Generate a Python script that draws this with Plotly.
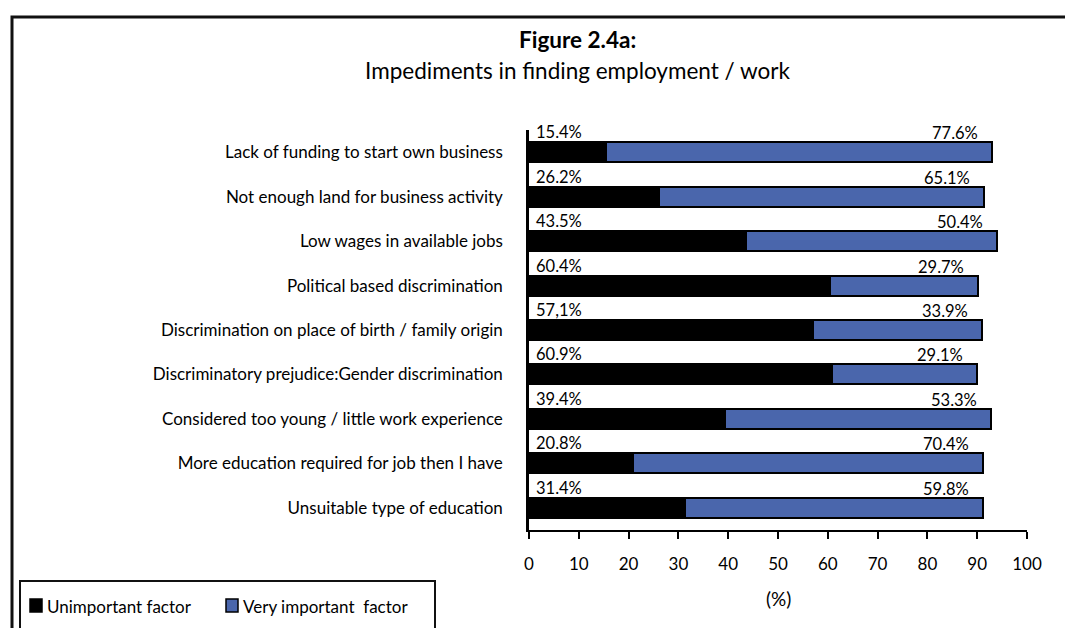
import plotly.graph_objects as go

categories = [
    "Lack of funding to start own business",
    "Not enough land for business activity",
    "Low wages in available jobs",
    "Political based discrimination",
    "Discrimination on place of birth / family origin",
    "Discriminatory prejudice:Gender discrimination",
    "Considered too young / little work experience",
    "More education required for job then I have",
    "Unsuitable type of education",
]
unimportant = [15.4, 26.2, 43.5, 60.4, 57.1, 60.9, 39.4, 20.8, 31.4]
very_important = [77.6, 65.1, 50.4, 29.7, 33.9, 29.1, 53.3, 70.4, 59.8]
unimportant_text = ["15.4%", "26.2%", "43.5%", "60.4%", "57,1%", "60.9%", "39.4%", "20.8%", "31.4%"]
very_important_text = ["77.6%", "65.1%", "50.4%", "29.7%", "33.9%", "29.1%", "53.3%", "70.4%", "59.8%"]
x_ticks = [0, 10, 20, 30, 40, 50, 60, 70, 80, 90, 100]

W, H = 1065, 628
L, R, T, B = 529, 38, 130, 98
PW, PH = W - L - R, H - T - B
FONT = "Lato"
BLUE = "#4A66AC"


def px(x):
    return (x - L) / PW


def py(y):
    return (H - B - y) / PH


fig = go.Figure()
fig.add_trace(go.Bar(
    y=categories, x=unimportant, orientation="h", name="Unimportant factor",
    marker=dict(color="black", line=dict(color="black", width=2)),
    width=0.45, showlegend=False,
))
fig.add_trace(go.Bar(
    y=categories, x=very_important, orientation="h", name="Very important  factor",
    marker=dict(color=BLUE, line=dict(color="black", width=2)),
    width=0.45, showlegend=False,
))

annotations = []
for cat, u, v, ut, vt in zip(categories, unimportant, very_important, unimportant_text, very_important_text):
    annotations.append(dict(x=0, y=cat, xref="x", yref="y", text=ut, showarrow=False,
                            xanchor="left", yanchor="middle", xshift=5, yshift=20,
                            font=dict(family=FONT, size=16.5, color="black")))
    annotations.append(dict(x=u + v, y=cat, xref="x", yref="y", text=vt, showarrow=False,
                            xanchor="right", yanchor="middle", xshift=-12, yshift=19,
                            font=dict(family=FONT, size=16.5, color="black")))

# titles
annotations.append(dict(x=px(577), y=py(40), xref="paper", yref="paper", text="<b>Figure 2.4a:</b>",
                        showarrow=False, xanchor="center", yanchor="middle",
                        font=dict(family=FONT, size=22.5, color="black")))
annotations.append(dict(x=px(577), y=py(70), xref="paper", yref="paper",
                        text="Impediments in finding employment / work",
                        showarrow=False, xanchor="center", yanchor="middle",
                        font=dict(family=FONT, size=22.5, color="black")))
# axis title
annotations.append(dict(x=0.5, y=py(598), xref="paper", yref="paper", text="(%)",
                        showarrow=False, xanchor="center", yanchor="middle",
                        font=dict(family=FONT, size=19, color="black")))

# legend drawn as a framed box with swatches
legend_items = [("Unimportant factor", "black", 30), ("Very important  factor", BLUE, 226)]
shapes = [
    dict(type="rect", xref="paper", yref="paper", x0=px(12), x1=px(1080), y0=py(650), y1=py(17),
         line=dict(color="#111111", width=3), fillcolor="rgba(0,0,0,0)", layer="below"),
    dict(type="rect", xref="paper", yref="paper", x0=px(20), x1=px(435), y0=py(650), y1=py(581),
         line=dict(color="#111111", width=2), fillcolor="rgba(0,0,0,0)"),
]
for label, color, x0 in legend_items:
    shapes.append(dict(type="rect", xref="paper", yref="paper", x0=px(x0), x1=px(x0 + 12),
                       y0=py(612), y1=py(599), line=dict(color="black", width=1.5), fillcolor=color))
    annotations.append(dict(x=px(x0 + 15), y=py(606), xref="paper", yref="paper", text=label,
                            showarrow=False, xanchor="left", yanchor="middle",
                            font=dict(family=FONT, size=17, color="black")))

fig.update_layout(
    width=W, height=H,
    margin=dict(l=L, r=R, t=T, b=B, pad=0),
    barmode="stack",
    bargap=0.55,
    plot_bgcolor="white", paper_bgcolor="white",
    font=dict(family=FONT, size=17, color="black"),
    annotations=annotations,
    shapes=shapes,
    showlegend=False,
    xaxis=dict(range=[0, 100], tickvals=x_ticks, ticks="outside", ticklen=7, tickwidth=2,
               tickcolor="black", showline=True, linecolor="black", linewidth=2,
               showgrid=False, zeroline=False, ticklabelstandoff=11,
               tickfont=dict(family=FONT, size=17, color="black")),
    yaxis=dict(range=[8.5, -0.5], showline=True, linecolor="black", linewidth=2.5,
               showgrid=False, zeroline=False, ticks="", ticklabelstandoff=20,
               tickfont=dict(family=FONT, size=17, color="black")),
)

fig.write_html("out.html")
